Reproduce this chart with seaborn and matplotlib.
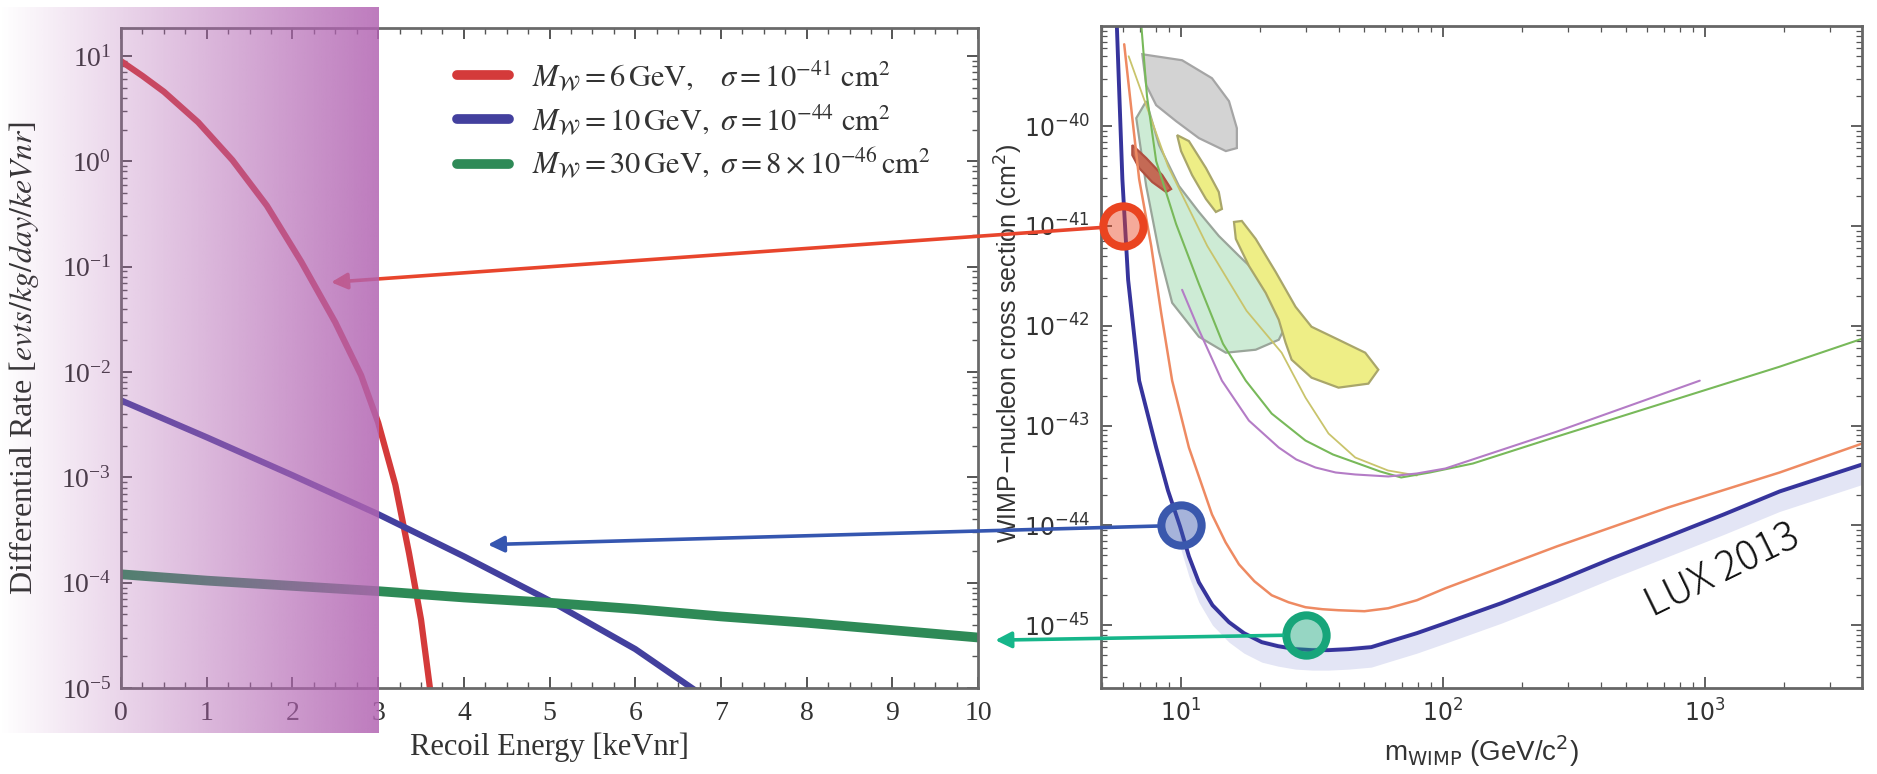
import numpy as np
import seaborn as sns
import matplotlib as mpl
mpl.use('Agg')
import matplotlib.pyplot as plt
from matplotlib.patches import ConnectionPatch
from matplotlib.colors import to_rgba
from matplotlib.ticker import LogLocator, NullFormatter, AutoMinorLocator

# ---- left panel: differential recoil spectra (log10 of rate) ----
E_red = [0, 0.25, 0.5, 0.9, 1.3, 1.7, 2.1, 2.5, 2.8, 3.0, 3.2, 3.36, 3.5, 3.62]
logR_red = [0.95, 0.81, 0.66, 0.37, 0.01, -0.42, -0.95, -1.53, -2.03, -2.48, -3.07, -3.72, -4.35, -5.1]
E_blue = [0, 1, 2, 3, 4, 5, 6, 6.75]
logR_blue = [-2.27, -2.62, -2.98, -3.35, -3.75, -4.17, -4.63, -5.05]
E_green = [0, 1, 2, 3, 4, 5, 6, 7, 8, 9, 10]
logR_green = [-3.92, -3.98, -4.03, -4.08, -4.14, -4.19, -4.25, -4.32, -4.38, -4.45, -4.52]
labels = [r'$M_{\mathcal{W}} = 6\,\mathrm{GeV},\quad\sigma = 10^{-41}\ \mathrm{cm}^2$',
          r'$M_{\mathcal{W}} = 10\,\mathrm{GeV},\ \sigma = 10^{-44}\ \mathrm{cm}^2$',
          r'$M_{\mathcal{W}} = 30\,\mathrm{GeV},\ \sigma = 8\times10^{-46}\,\mathrm{cm}^2$']

# ---- right panel: exclusion limits (log10 mass, log10 sigma) ----
lux_m = [0.755, 0.776, 0.798, 0.840, 0.905, 0.950, 0.996, 1.030, 1.068, 1.12, 1.183, 1.24, 1.308, 1.37,
         1.437, 1.50, 1.563, 1.64, 1.726, 1.80, 1.90, 2.009, 2.222, 2.435, 2.647, 2.860, 3.072, 3.285, 3.60]
lux_s = [-39.0, -40.53, -41.54, -42.55, -43.22, -43.65, -44.01, -44.31, -44.57, -44.80, -44.97, -45.08,
         -45.17, -45.21, -45.24, -45.25, -45.25, -45.24, -45.22, -45.16, -45.08, -44.98, -44.78, -44.56,
         -44.33, -44.11, -43.89, -43.66, -43.39]
x100_m = [0.783, 0.814, 0.840, 0.886, 0.924, 0.966, 1.030, 1.118, 1.17, 1.221, 1.28, 1.346, 1.41, 1.475,
          1.54, 1.601, 1.70, 1.791, 1.90, 2.009, 2.435, 2.860, 3.285, 3.60]
x100_s = [-39.18, -39.92, -40.53, -41.20, -41.87, -42.55, -43.22, -43.89, -44.17, -44.39, -44.56, -44.70,
          -44.77, -44.82, -44.84, -44.85, -44.86, -44.83, -44.75, -44.63, -44.21, -43.82, -43.47, -43.18]
purp_m = [1.004, 1.068, 1.156, 1.259, 1.373, 1.44, 1.513, 1.59, 1.665, 1.791, 1.90, 2.009, 2.435, 2.98]
purp_s = [-41.64, -42.04, -42.55, -42.95, -43.22, -43.34, -43.42, -43.47, -43.49, -43.51, -43.48, -43.43,
          -43.06, -42.55]
grn_m = [0.848, 0.87, 0.905, 0.981, 1.068, 1.16, 1.247, 1.346, 1.475, 1.58, 1.665, 1.76, 1.84, 1.95,
         2.114, 2.435, 2.86, 3.285, 3.60]
grn_s = [-38.98, -39.7, -40.35, -40.98, -41.58, -42.18, -42.55, -42.88, -43.15, -43.29, -43.37, -43.46,
         -43.52, -43.47, -43.38, -43.11, -42.76, -42.41, -42.13]
olv_m = [0.80, 0.95, 1.10, 1.25, 1.384, 1.475, 1.563, 1.665, 1.79, 1.9]
olv_s = [-39.3, -40.4, -41.2, -41.85, -42.27, -42.72, -43.08, -43.32, -43.45, -43.5]

# signal regions (log10 mass, log10 sigma)
grey_m = [0.852, 1.004, 1.118, 1.183, 1.213, 1.213, 1.171, 1.068, 0.981, 0.905, 0.867]
grey_s = [-39.28, -39.34, -39.52, -39.75, -40.02, -40.22, -40.25, -40.12, -39.95, -39.79, -39.59]
ysm_m = [0.985, 1.030, 1.095, 1.144, 1.156, 1.133, 1.095, 1.042, 1.0]
ysm_s = [-40.09, -40.15, -40.42, -40.66, -40.83, -40.86, -40.73, -40.49, -40.25]
ybig_m = [1.202, 1.232, 1.285, 1.361, 1.437, 1.498, 1.601, 1.703, 1.753, 1.715, 1.601, 1.498, 1.422,
          1.399, 1.373, 1.323, 1.259, 1.209]
ybig_s = [-40.96, -40.95, -41.13, -41.46, -41.81, -42.01, -42.14, -42.27, -42.44, -42.58, -42.62, -42.52,
          -42.34, -42.17, -41.94, -41.67, -41.40, -41.13]
gsi_m = [0.829, 0.867, 0.916, 0.966, 1.068, 1.171, 1.285, 1.373, 1.411, 1.399, 1.285, 1.221, 1.144,
         1.068, 0.992, 0.916, 0.867]
gsi_s = [-39.92, -40.60, -41.26, -41.77, -42.11, -42.27, -42.24, -42.14, -41.94, -41.77, -41.46, -41.30,
         -41.10, -40.86, -40.60, -40.19, -39.75]
red_m = [0.814, 0.867, 0.928, 0.962, 0.943, 0.890, 0.840, 0.814]
red_s = [-40.19, -40.32, -40.49, -40.63, -40.66, -40.56, -40.42, -40.29]

# benchmark models and where the arrows point on the left panel
model_m = [6, 10, 30]
model_sigma = [1e-41, 1e-44, 8e-46]
arrow_E = [2.45, 4.28, 10.2]
arrow_rate = [7.1e-2, 2.3e-4, 2.85e-5]

mass_ticks = [10, 100, 1000]
sigma_ticks = [1e-45, 1e-44, 1e-43, 1e-42, 1e-41, 1e-40]

line_cols = ['#d43a3a', '#43409e', '#2e8a57']
ring_cols = ['#ea4420', '#3a58ad', '#17a57a']
arrow_cols = ['#e8452c', '#3556b0', '#16b68a']

sns.set_theme(style='ticks')
plt.rcParams['font.family'] = ['Liberation Serif', 'DejaVu Serif']
plt.rcParams['mathtext.fontset'] = 'stix'

fig = plt.figure(figsize=(18.77, 7.74), dpi=100)
fig.patch.set_facecolor('white')
ax1 = fig.add_axes([0.0645, 0.111, 0.4566, 0.853])
ax2 = fig.add_axes([0.5866, 0.111, 0.4055, 0.855])

# ---------------- left ----------------
ax1.set_yscale('log')
widths = [4.5, 4.5, 7]
for E, lr, c, lab, w in zip([E_red, E_blue, E_green], [logR_red, logR_blue, logR_green],
                            line_cols, labels, widths):
    sns.lineplot(x=E, y=10 ** np.array(lr), ax=ax1, color=c, lw=w, label=lab, sort=False)
ax1.set_xlim(0, 10)
ax1.set_ylim(1e-5, 10 ** 1.266)
ax1.set_xticks(range(11))
ax1.xaxis.set_minor_locator(AutoMinorLocator(4))
ax1.yaxis.set_minor_locator(LogLocator(base=10, subs=np.arange(2, 10)))
ax1.yaxis.set_minor_formatter(NullFormatter())
ax1.tick_params(which='both', direction='in', top=True, right=True, colors='#555555',
                labelcolor='#333333', labelsize=20)
ax1.tick_params(which='major', length=8, width=1.4)
ax1.tick_params(which='minor', length=4, width=1.0)
ax1.tick_params(axis='y', pad=7)
ax1.tick_params(axis='x', pad=9)
for s in ax1.spines.values():
    s.set_color('#6a6a6a')
    s.set_linewidth(2)
ax1.set_xlabel('Recoil Energy [keVnr]', fontsize=22, color='#333333')
ax1.set_ylabel(r'Differential Rate [$evts/kg/day/keVnr$]', fontsize=23, color='#333333')
ax1.xaxis.set_label_coords(0.5, -0.068)
ax1.yaxis.set_label_coords(-0.093, 0.5)
leg = ax1.legend(loc='upper left', bbox_to_anchor=(0.36, 0.995), frameon=False, fontsize=22,
                 handlelength=1.7, handletextpad=0.75, labelspacing=0.3)
for h in leg.get_lines():
    h.set_linewidth(7)
for t in leg.get_texts():
    t.set_color('#333333')

# ---------------- right ----------------
ax2.set_xscale('log')
ax2.set_yscale('log')
pw = lambda a: 10 ** np.array(a)
for pm, ps, fc, ec in [(grey_m, grey_s, '#d3d3d3', '#a5a5a5'), (gsi_m, gsi_s, '#cdebd5', '#9aa59a'),
                       (ysm_m, ysm_s, '#eeee86', '#a9a66a'), (ybig_m, ybig_s, '#eeee86', '#a9a66a'),
                       (red_m, red_s, '#c46a55', '#b05040')]:
    ax2.fill(pw(pm), pw(ps), facecolor=fc, edgecolor=ec, lw=1.6, zorder=1)
lm = np.array(lux_m)
ls = np.array(lux_s)
band = lm >= 0.99
ax2.fill_between(pw(lm[band]), pw(ls[band] - 0.2), pw(ls[band] + 0.03), color='#e3e5f5', lw=0, zorder=1)
for pm, ps, c, w in [(olv_m, olv_s, '#c9c46c', 1.3), (grn_m, grn_s, '#78b95a', 1.5),
                     (purp_m, purp_s, '#b47cc6', 1.5), (x100_m, x100_s, '#ee8a62', 1.8),
                     (lux_m, lux_s, '#36349c', 2.8)]:
    sns.lineplot(x=pw(pm), y=pw(ps), ax=ax2, color=c, lw=w, sort=False, legend=False, zorder=2)
ax2.set_xlim(4.95, 3980)
ax2.set_ylim(10 ** -45.63, 1e-39)
sans = dict(fontsize=17, family='Liberation Sans', math_fontfamily='dejavusans', color='#333333')
ax2.set_xticks(mass_ticks, labels=[r'$10^{%d}$' % round(np.log10(v)) for v in mass_ticks], **sans)
ax2.set_yticks(sigma_ticks, labels=[r'$10^{%d}$' % round(np.log10(v)) for v in sigma_ticks], **sans)
ax2.xaxis.set_minor_locator(LogLocator(base=10, subs=np.arange(2, 10), numticks=20))
ax2.yaxis.set_minor_locator(LogLocator(base=10, subs=np.arange(2, 10), numticks=20))
ax2.xaxis.set_minor_formatter(NullFormatter())
ax2.yaxis.set_minor_formatter(NullFormatter())
ax2.tick_params(which='both', direction='in', top=True, right=True, colors='#555555',
                labelcolor='#333333')
ax2.tick_params(which='major', length=8, width=1.3, pad=8)
ax2.tick_params(which='minor', length=4, width=0.9)
for s in ax2.spines.values():
    s.set_color('#666666')
    s.set_linewidth(2)
ax2.set_xlabel(r'm$_{\rm WIMP}$ (GeV/c$^2$)', fontsize=20, family='Liberation Sans',
               math_fontfamily='dejavusans', color='#333333')
ax2.set_ylabel(r'WIMP$-$nucleon cross section (cm$^2$)', fontsize=18, family='Liberation Sans',
               math_fontfamily='dejavusans', color='#333333')
ax2.xaxis.set_label_coords(0.5, -0.068)
ax2.yaxis.set_label_coords(-0.1, 0.52)

# benchmark circles on the limit plot
for m, sg, c in zip(model_m, model_sigma, ring_cols):
    ax2.plot([m], [sg], marker='o', ms=29, mew=5.8, mec=c, mfc=to_rgba(c, 0.45),
             clip_on=False, zorder=6)

# arrows from circles to the spectra
for m, sg, e, r, c in zip(model_m, model_sigma, arrow_E, arrow_rate, arrow_cols):
    con = ConnectionPatch(xyA=(m, sg), coordsA=ax2.transData, xyB=(e, r), coordsB=ax1.transData,
                          arrowstyle='-|>', mutation_scale=24, lw=2.6, color=c,
                          shrinkA=17, shrinkB=0, zorder=3)
    fig.add_artist(con)

fig.text(0.918, 0.262, 'LUX 2013', rotation=26, ha='center', va='center', fontsize=29,
         family=['Noto Sans CJK JP', 'DejaVu Sans'], fontweight='light', color='#111111')

# purple gradient overlay over the low-energy region
ov = fig.add_axes([0, 0.053, 0.2019, 0.938], zorder=5)
ov.axis('off')
t = np.linspace(0, 1, 256)
grad = np.zeros((2, 256, 4))
grad[..., 0] = 178 / 255
grad[..., 1] = 100 / 255
grad[..., 2] = 178 / 255
grad[..., 3] = 0.85 * t
ov.imshow(grad, aspect='auto', extent=(0, 1, 0, 1), interpolation='bilinear')
ov.set_xlim(0, 1)
ov.set_ylim(0, 1)

plt.savefig('out.png', dpi=100)
